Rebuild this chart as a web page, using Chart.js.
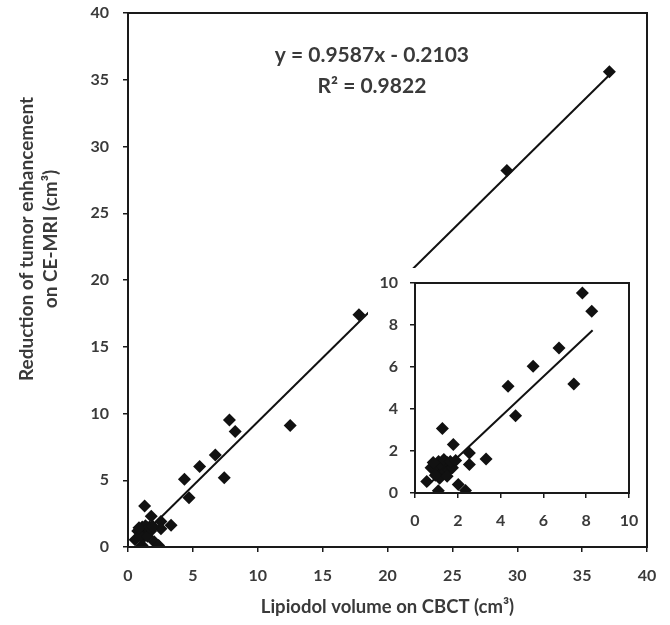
<!DOCTYPE html>
<html>
<head>
<meta charset="utf-8">
<script src="https://cdn.jsdelivr.net/npm/chart.js@4.4.1/dist/chart.umd.min.js"></script>
<style>
  body { margin: 0; background: #fff; }
  #wrap { position: relative; width: 670px; height: 625px; }
  #mainCanvas { position: absolute; left: 0; top: 0; }
  #insetCanvas { position: absolute; left: 368px; top: 268px; background: #fff; }
</style>
</head>
<body>
<div id="wrap">
  <canvas id="mainCanvas" width="670" height="625"></canvas>
  <canvas id="insetCanvas" width="272" height="275"></canvas>
</div>
<script>
// lipiodol volume on CBCT (x) vs reduction of enhancement on CE-MRI (y)
const lipiodolX = [37.1, 29.2, 17.8, 12.5,
  7.82, 8.26, 6.73, 5.52, 4.35, 7.42, 4.70,
  1.28, 1.79, 2.54, 3.32, 2.54, 0.55, 1.09, 2.02, 2.36,
  0.75, 0.9, 1.0, 1.1, 1.2, 1.3, 1.4, 1.5, 1.6, 1.75, 1.15, 0.95, 1.5, 1.35, 0.85, 1.65, 1.9];
const reductionY = [35.6, 28.2, 17.4, 9.1,
  9.52, 8.65, 6.9, 6.03, 5.08, 5.19, 3.68,
  3.07, 2.31, 1.91, 1.62, 1.36, 0.55, 0.11, 0.40, 0.12,
  1.2, 1.15, 1.3, 1.5, 0.9, 1.25, 1.0, 1.45, 1.1, 1.2, 0.7, 0.85, 0.8, 1.6, 1.45, 1.5, 1.55];

// trendline ends (y = 0.9587x - 0.2103)
const trendX = [0.55, 37.1];
const trendY = [0.32, 35.36];
const insetTrendX = [0.55, 8.3];
const insetTrendY = [0.32, 7.75];

const mainTicks = [0, 5, 10, 15, 20, 25, 30, 35, 40];
const insetTicks = [0, 2, 4, 6, 8, 10];
const equationText = ['y = 0.9587x - 0.2103', 'R² = 0.9822'];
const yTitle = ['Reduction of tumor enhancement', 'on CE-MRI (cm³)'];

const FONT = 'Lato, "Open Sans", sans-serif';
const TXT = '#3a3a3a';

const points = lipiodolX.map((x, i) => ({ x: x, y: reductionY[i] }));
const insetPoints = points.filter(p => p.x <= 10 && p.y <= 10);
const trendPts = trendX.map((x, i) => ({ x: x, y: trendY[i] }));
const insetTrendPts = insetTrendX.map((x, i) => ({ x: x, y: insetTrendY[i] }));

const boxPlugin = {
  id: 'box',
  afterDraw(chart) {
    const a = chart.chartArea, ctx = chart.ctx;
    ctx.save();
    ctx.strokeStyle = '#1a1a1a';
    ctx.lineWidth = 2;
    ctx.strokeRect(a.left, a.top, a.right - a.left, a.bottom - a.top);
    ctx.restore();
  }
};

// equation text + rotated two-line y title
const textPlugin = {
  id: 'texts',
  afterDraw(chart) {
    const ctx = chart.ctx, a = chart.chartArea;
    const xs = chart.scales.x, ys = chart.scales.y;
    ctx.save();
    ctx.fillStyle = TXT;
    ctx.textAlign = 'center';
    ctx.textBaseline = 'middle';
    ctx.font = 'bold 21px ' + FONT;
    ctx.fillText(equationText[0], xs.getPixelForValue(18.8), ys.getPixelForValue(36.8));
    ctx.fillText(equationText[1], xs.getPixelForValue(18.8), ys.getPixelForValue(34.5));

    ctx.font = 'bold 19px ' + FONT;
    ctx.translate(a.left - 101, a.top + 226);
    ctx.rotate(-Math.PI / 2);
    ctx.fillText(yTitle[0], 0, 0);
    ctx.fillText(yTitle[1], 0, 24);
    ctx.restore();
  }
};

// fixed scale size, no label overhang so the plot box sits where the layout padding says
function fixX(h) {
  return s => { s.height = h; s.paddingLeft = 0; s.paddingRight = 0; };
}
function fixY(w) {
  return s => { s.width = w; s.paddingTop = 0; s.paddingBottom = 0; };
}

function axis(ticks, pad, opts) {
  return Object.assign({
    type: 'linear',
    min: ticks[0],
    max: ticks[ticks.length - 1],
    afterBuildTicks: s => { s.ticks = ticks.map(v => ({ value: v })); },
    grid: { drawOnChartArea: false, drawTicks: true, tickLength: 5, color: '#1a1a1a', lineWidth: 1.5 },
    border: { display: true, color: '#1a1a1a', width: 2 },
    ticks: { color: TXT, font: { family: FONT, size: 16, weight: 'bold' }, padding: pad }
  }, opts);
}

new Chart(document.getElementById('mainCanvas').getContext('2d'), {
  type: 'scatter',
  data: {
    datasets: [{
      data: points,
      pointStyle: 'rectRot',
      pointRadius: 6.5,
      pointHoverRadius: 6.5,
      backgroundColor: '#111',
      borderColor: '#111',
      borderWidth: 0
    }, {
      type: 'line',
      data: trendPts,
      borderColor: '#111',
      borderWidth: 2,
      pointRadius: 0,
      fill: false
    }]
  },
  options: {
    responsive: false,
    animation: false,
    layout: { padding: { top: 13, right: 23, left: 0, bottom: 0 } },
    plugins: { legend: { display: false }, tooltip: { enabled: false } },
    scales: {
      x: axis(mainTicks, 14, {
        afterFit: fixX(78),
        title: { display: true, text: 'Lipiodol volume on CBCT (cm³)', color: TXT,
          font: { family: FONT, size: 18.5, weight: 'bold' }, padding: { top: 2, bottom: 7 } }
      }),
      y: axis(mainTicks, 14, { afterFit: fixY(128) })
    }
  },
  plugins: [boxPlugin, textPlugin]
});

new Chart(document.getElementById('insetCanvas').getContext('2d'), {
  type: 'scatter',
  data: {
    datasets: [{
      data: insetPoints,
      pointStyle: 'rectRot',
      pointRadius: 6.5,
      pointHoverRadius: 6.5,
      backgroundColor: '#111',
      borderColor: '#111',
      borderWidth: 0
    }, {
      type: 'line',
      data: insetTrendPts,
      borderColor: '#111',
      borderWidth: 2,
      pointRadius: 0,
      fill: false
    }]
  },
  options: {
    responsive: false,
    animation: false,
    layout: { padding: { top: 15, right: 11, left: 0, bottom: 0 } },
    plugins: { legend: { display: false }, tooltip: { enabled: false } },
    scales: {
      x: axis(insetTicks, 13, { afterFit: fixX(50) }),
      y: axis(insetTicks, 12, { afterFit: fixY(47) })
    }
  },
  plugins: [boxPlugin]
});
</script>
</body>
</html>
